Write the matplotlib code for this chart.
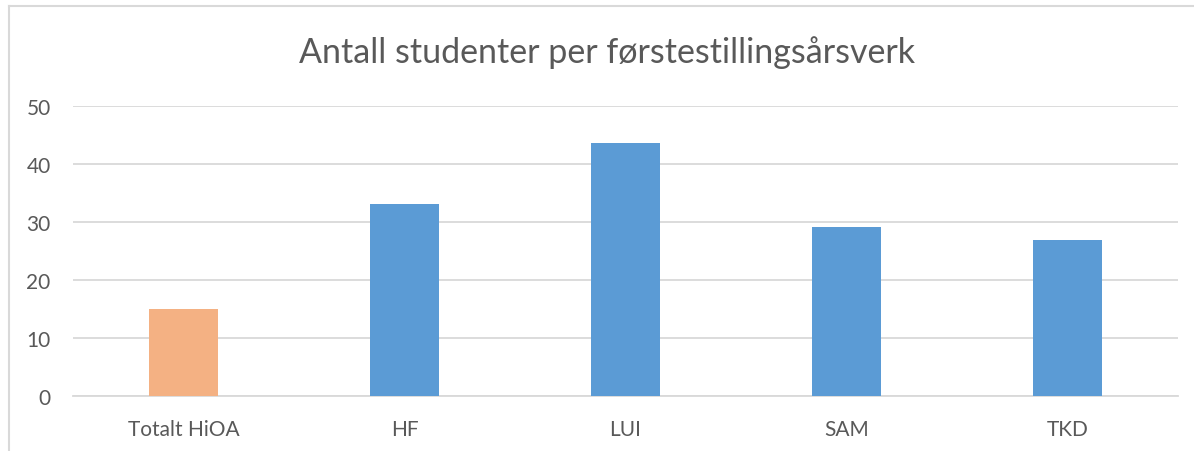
import matplotlib.pyplot as plt
from matplotlib.lines import Line2D

# Data
kategorier = ['Totalt HiOA', 'HF', 'LUI', 'SAM', 'TKD']
verdier = [15.1, 33.1, 43.5, 29.1, 26.9]
farger = ['#F4B183', '#5B9BD5', '#5B9BD5', '#5B9BD5', '#5B9BD5']

plt.rcParams['font.family'] = ['Lato', 'DejaVu Sans']
tekstfarge = '#595959'

fig = plt.figure(figsize=(11.94, 4.52), dpi=100)
ax = fig.add_axes([0.0611, 0.121, 0.9255, 0.643])

x = range(len(kategorier))
ax.bar(x, verdier, width=0.31, color=farger, zorder=3)

ax.set_ylim(0, 50)
ax.set_xlim(-0.5, len(kategorier) - 0.5)
ax.set_yticks(range(0, 51, 10))
ax.set_xticks(list(x))
ax.set_xticklabels(kategorier)
ax.grid(axis='y', color='#D9D9D9', linewidth=1.3, zorder=0)
for s in ['top', 'right', 'left']:
    ax.spines[s].set_visible(False)
ax.spines['bottom'].set_color('#D9D9D9')
ax.spines['bottom'].set_linewidth(1.3)
ax.tick_params(axis='both', length=0, colors=tekstfarge, labelsize=15)
ax.tick_params(axis='y', pad=16)
ax.tick_params(axis='x', pad=16)

fig.text(0.5083, 0.883, 'Antall studenter per førstestillingsårsverk',
         ha='center', va='center', fontsize=24.5, color=tekstfarge)

# ramme rundt diagrammet
fig.add_artist(Line2D([9/1194, 9/1194], [0, 1 - 7/452], color='#D9D9D9', linewidth=1.5))
fig.add_artist(Line2D([9/1194, 1], [1 - 7/452, 1 - 7/452], color='#D9D9D9', linewidth=1.5))

fig.savefig('out.png', dpi=100)
